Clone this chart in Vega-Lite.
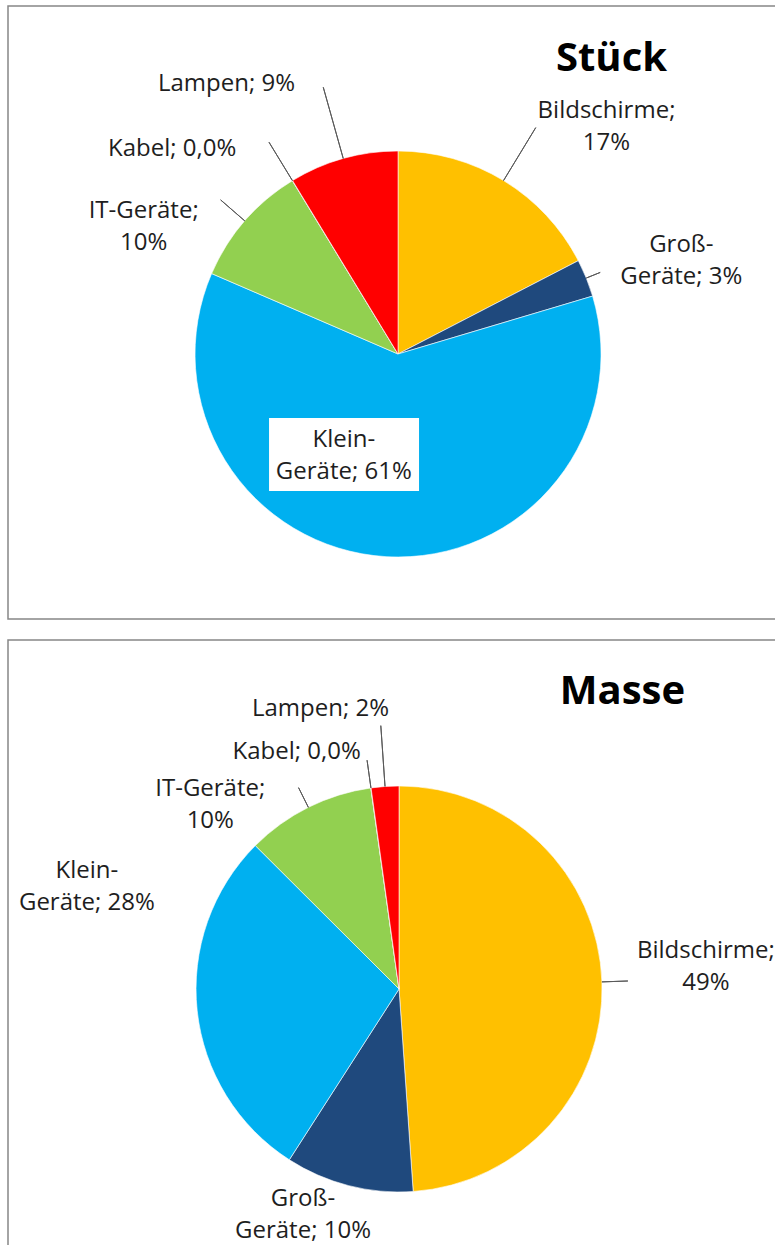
{
  "$schema": "https://vega.github.io/schema/vega-lite/v6.json",
  "usermeta": {"embedOptions": {"actions": false}},
  "padding": {"left": 7, "top": 5, "right": -3, "bottom": -4},
  "background": "white",
  "spacing": 19,
  "config": {
    "view": {"stroke": "#878787", "strokeWidth": 1.5},
    "font": "Open Sans",
    "title": {"font": "Open Sans", "fontSize": 40, "fontWeight": "bold", "color": "#000000"}
  },
  "datasets": {
    "stueck": [
      {"panel": "Stück", "i": 1, "cat": "Bildschirme", "v": 17.4, "label": "Bildschirme;\n17%"},
      {"panel": "Stück", "i": 2, "cat": "Groß-Geräte", "v": 3.0, "label": "Groß-\nGeräte; 3%"},
      {"panel": "Stück", "i": 3, "cat": "Klein-Geräte", "v": 61.1, "label": "Klein-\nGeräte; 61%"},
      {"panel": "Stück", "i": 4, "cat": "IT-Geräte", "v": 9.8, "label": "IT-Geräte;\n10%"},
      {"panel": "Stück", "i": 5, "cat": "Kabel", "v": 0.02, "label": "Kabel; 0,0%"},
      {"panel": "Stück", "i": 6, "cat": "Lampen", "v": 8.7, "label": "Lampen; 9%"}
    ],
    "masse": [
      {"panel": "Masse", "i": 1, "cat": "Bildschirme", "v": 48.9, "label": "Bildschirme;\n49%"},
      {"panel": "Masse", "i": 2, "cat": "Groß-Geräte", "v": 10.2, "label": "Groß-\nGeräte; 10%"},
      {"panel": "Masse", "i": 3, "cat": "Klein-Geräte", "v": 28.4, "label": "Klein-\nGeräte; 28%"},
      {"panel": "Masse", "i": 4, "cat": "IT-Geräte", "v": 10.3, "label": "IT-Geräte;\n10%"},
      {"panel": "Masse", "i": 5, "cat": "Kabel", "v": 0.02, "label": "Kabel; 0,0%"},
      {"panel": "Masse", "i": 6, "cat": "Lampen", "v": 2.2, "label": "Lampen; 2%"}
    ]
  },
  "vconcat": [
    {
      "width": 769,
      "height": 613,
      "data": {"name": "stueck"},
      "title": {"text": "Stück", "anchor": "middle", "frame": "group", "dx": 219, "offset": -105, "baseline": "alphabetic"},
      "encoding": {
        "x": {"field": "panel", "type": "nominal", "scale": {"type": "point", "align": 0.5072}, "axis": null},
        "y": {"field": "panel", "type": "nominal", "scale": {"type": "point", "align": 0.5677}, "axis": null}
      },
      "layer": [
        {
          "mark": {"type": "arc", "radius": 203, "stroke": "#ffffff", "strokeWidth": 0.6},
          "encoding": {
            "theta": {"field": "v", "type": "quantitative", "stack": true},
            "order": {"field": "i", "type": "quantitative"},
            "color": {"field": "cat", "type": "nominal", "legend": null,
              "scale": {"domain": ["Bildschirme", "Groß-Geräte", "Klein-Geräte", "IT-Geräte", "Kabel", "Lampen"],
                        "range": ["#FFC000", "#1F497D", "#00B0F0", "#92D050", "#7030A0", "#FF0000"]}}
          }
        },
        {
          "mark": {"type": "arc", "padAngle": 3.1, "fillOpacity": 0, "stroke": "#595959", "strokeWidth": 1,
            "radius": {"expr": "{'Bildschirme': 265, 'Groß-Geräte': 218, 'Klein-Geräte': 204, 'IT-Geräte': 235, 'Kabel': 248, 'Lampen': 277}[datum.cat]"},
            "radius2": 203},
          "encoding": {
            "theta": {"field": "v", "type": "quantitative", "stack": true},
            "order": {"field": "i", "type": "quantitative"},
            "detail": {"field": "cat", "type": "nominal"},
            "strokeOpacity": {"condition": {"test": "datum.cat === 'Klein-Geräte'", "value": 0}, "value": 1}
          }
        },
        {
          "transform": [{"filter": "datum.cat === 'Klein-Geräte'"}],
          "mark": {"type": "point", "shape": "M-129,64H21V137H-129Z", "size": 4, "filled": true, "color": "#ffffff", "opacity": 1, "strokeWidth": 0}
        },
        {
          "mark": {"type": "text", "font": "Open Sans", "fontSize": 24, "lineHeight": 32, "lineBreak": "\n", "color": "#1e1e1e", "align": "center", "baseline": "middle",
            "radius": {"expr": "{'Bildschirme': 303, 'Groß-Geräte': 299, 'Klein-Geräte': 105, 'IT-Geräte': 276, 'Kabel': 292, 'Lampen': 306}[datum.cat]"},
            "dx": {"expr": "{'Bildschirme': 51, 'Groß-Geräte': 6, 'Klein-Geräte': -48, 'IT-Geräte': -46, 'Kabel': -74, 'Lampen': -89}[datum.cat]"},
            "dy": {"expr": "{'Bildschirme': 16, 'Groß-Geräte': 3, 'Klein-Geräte': -19, 'IT-Geräte': 38, 'Kabel': 44, 'Lampen': 25}[datum.cat]"}},
          "encoding": {
            "theta": {"field": "v", "type": "quantitative", "stack": true},
            "order": {"field": "i", "type": "quantitative"},
            "detail": {"field": "cat", "type": "nominal"},
            "text": {"field": "label", "type": "nominal"}
          }
        }
      ]
    },
    {
      "width": 769,
      "height": 610,
      "data": {"name": "masse"},
      "title": {"text": "Masse", "anchor": "middle", "frame": "group", "dx": 230, "offset": -104, "baseline": "alphabetic"},
      "encoding": {
        "x": {"field": "panel", "type": "nominal", "scale": {"type": "point", "align": 0.5085}, "axis": null},
        "y": {"field": "panel", "type": "nominal", "scale": {"type": "point", "align": 0.5721}, "axis": null}
      },
      "layer": [
        {
          "mark": {"type": "arc", "radius": 203, "stroke": "#ffffff", "strokeWidth": 0.6},
          "encoding": {
            "theta": {"field": "v", "type": "quantitative", "stack": true},
            "order": {"field": "i", "type": "quantitative"},
            "color": {"field": "cat", "type": "nominal", "legend": null,
              "scale": {"domain": ["Bildschirme", "Groß-Geräte", "Klein-Geräte", "IT-Geräte", "Kabel", "Lampen"],
                        "range": ["#FFC000", "#1F497D", "#00B0F0", "#92D050", "#7030A0", "#FF0000"]}}
          }
        },
        {
          "mark": {"type": "arc", "padAngle": 3.1, "fillOpacity": 0, "stroke": "#595959", "strokeWidth": 1,
            "radius": {"expr": "{'Bildschirme': 229, 'Groß-Geräte': 204, 'Klein-Geräte': 204, 'IT-Geräte': 225, 'Kabel': 231, 'Lampen': 264}[datum.cat]"},
            "radius2": 203},
          "encoding": {
            "theta": {"field": "v", "type": "quantitative", "stack": true},
            "order": {"field": "i", "type": "quantitative"},
            "detail": {"field": "cat", "type": "nominal"},
            "strokeOpacity": {"condition": {"test": "datum.cat === 'Klein-Geräte' || datum.cat === 'Groß-Geräte'", "value": 0}, "value": 1}
          }
        },
        {
          "mark": {"type": "text", "font": "Open Sans", "fontSize": 24, "lineHeight": 32, "lineBreak": "\n", "color": "#1e1e1e", "align": "center", "baseline": "middle",
            "radius": {"expr": "{'Bildschirme': 310, 'Groß-Geräte': 246, 'Klein-Geräte': 321, 'IT-Geräte': 248, 'Kabel': 248, 'Lampen': 283}[datum.cat]"},
            "dx": {"expr": "{'Bildschirme': -3, 'Groß-Geräte': -35, 'Klein-Geräte': 7, 'IT-Geräte': -78, 'Kabel': -68, 'Lampen': -59}[datum.cat]"},
            "dy": {"expr": "{'Bildschirme': -27, 'Groß-Geräte': -28, 'Klein-Geräte': -152, 'IT-Geräte': 22, 'Kabel': 9, 'Lampen': 2}[datum.cat]"}},
          "encoding": {
            "theta": {"field": "v", "type": "quantitative", "stack": true},
            "order": {"field": "i", "type": "quantitative"},
            "detail": {"field": "cat", "type": "nominal"},
            "text": {"field": "label", "type": "nominal"}
          }
        }
      ]
    }
  ]
}
